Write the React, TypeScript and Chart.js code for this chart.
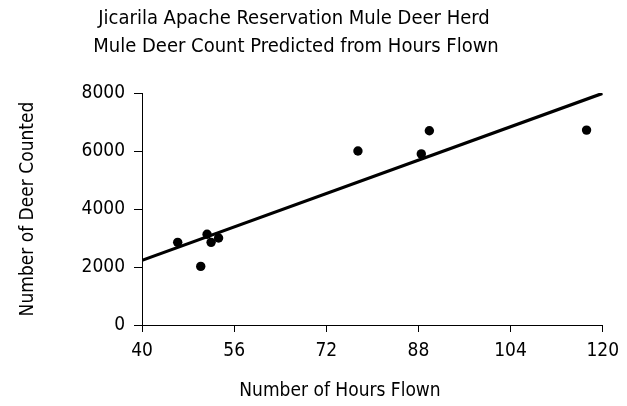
import React, { useEffect, useRef } from "react";
import { Chart, registerables } from "chart.js";

Chart.register(...registerables);

const hoursFlown = [46.2, 50.2, 51.3, 52.0, 53.3, 77.5, 88.5, 89.9, 117.2];
const deerCounted = [2850, 2020, 3130, 2850, 3000, 6000, 5900, 6700, 6720];
const fitX = [40, 120];
const fitY = [2230, 7990];
const xTicks = [40, 56, 72, 88, 104, 120];
const yTicks = [0, 2000, 4000, 6000, 8000];
const titleLines = [
  "Jicarila Apache Reservation Mule Deer Herd",
  "Mule Deer Count Predicted from Hours Flown",
];
const xTitle = "Number of Hours Flown";
const yTitle = "Number of Deer Counted";

const FONT = "'DejaVu Sans Condensed', sans-serif";

const titlePlugin = {
  id: "customTitles",
  afterDraw(chart: any) {
    const ctx = chart.ctx;
    ctx.save();
    ctx.fillStyle = "#000";
    ctx.font = `20px ${FONT}`;
    ctx.textAlign = "center";
    ctx.textBaseline = "alphabetic";
    ctx.fillText(titleLines[0], 294, 24);
    ctx.fillText(titleLines[1], 296, 52);
    ctx.font = `19px ${FONT}`;
    ctx.fillText(xTitle, 340, 396);
    ctx.restore();
  },
};

export default function App() {
  const ref = useRef<HTMLCanvasElement>(null);
  useEffect(() => {
    document.body.style.margin = "0";
    const chart = new Chart(ref.current!, {
      type: "scatter",
      data: {
        datasets: [
          {
            type: "line",
            data: fitX.map((x, i) => ({ x, y: fitY[i] })),
            borderColor: "#000",
            borderWidth: 3.2,
            pointRadius: 0,
            fill: false,
          } as any,
          {
            data: hoursFlown.map((x, i) => ({ x, y: deerCounted[i] })),
            backgroundColor: "#000",
            borderColor: "#000",
            pointRadius: 4.7,
            pointBorderWidth: 0,
          },
        ],
      },
      options: {
        animation: false,
        responsive: false,
        layout: { padding: { top: 93, right: 23, left: 0, bottom: 0 } },
        plugins: { legend: { display: false }, tooltip: { enabled: false }, title: { display: false } },
        scales: {
          x: {
            type: "linear",
            min: 40,
            max: 120,
            afterBuildTicks: (s: any) => {
              s.ticks = xTicks.map((v) => ({ value: v }));
            },
            afterFit: (s: any) => {
              s.height = 81;
            },
            grid: { drawOnChartArea: false, drawTicks: true, tickLength: 7, color: "#000" },
            border: { display: true, color: "#000", width: 1 },
            ticks: {
              color: "#000",
              font: { family: FONT, size: 19 },
              padding: 8,
              maxRotation: 0,
              callback: (v: any) => String(v),
            },
          },
          y: {
            type: "linear",
            min: 0,
            max: 8000,
            afterBuildTicks: (s: any) => {
              s.ticks = yTicks.map((v) => ({ value: v }));
            },
            afterFit: (s: any) => {
              s.width = 142;
            },
            grid: { drawOnChartArea: false, drawTicks: true, tickLength: 8, color: "#000" },
            border: { display: true, color: "#000", width: 1 },
            ticks: {
              color: "#000",
              font: { family: FONT, size: 19 },
              padding: 9,
              callback: (v: any) => String(v),
            },
            title: {
              display: true,
              text: yTitle,
              color: "#000",
              font: { family: FONT, size: 19 },
              padding: { top: 17, bottom: 0 },
            },
          },
        },
      },
      plugins: [titlePlugin],
    });
    return () => chart.destroy();
  }, []);
  return (
    <div style={{ width: 627, height: 406 }}>
      <canvas ref={ref} width={627} height={406} style={{ display: "block" }} />
    </div>
  );
}
